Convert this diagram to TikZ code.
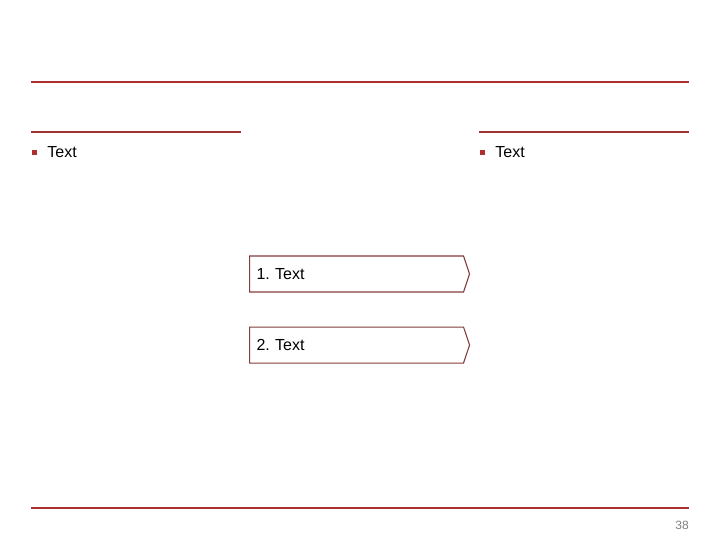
\documentclass[tikz,border=0pt]{standalone}
\usepackage{fontspec}
\setmainfont{Liberation Sans}
\frenchspacing
\usetikzlibrary{positioning, shapes.symbols}
\definecolor{slidered}{RGB}{172,48,48}
\definecolor{rulered}{RGB}{160,50,50}
\definecolor{boxred}{RGB}{130,60,60}
\tikzstyle{rule} = [draw = slidered, line width = 2.3]
\tikzstyle{thinrule} = [draw = rulered, line width = 1.2]
\tikzstyle{bullet} = [rectangle, fill = slidered, minimum size = 5, inner sep = 0]
\tikzstyle{textarea} = [rectangle, inner sep = 0, anchor = west,
  font = \fontsize{16}{19}\selectfont]
\tikzstyle{listbox} = [
  signal, signal to = east, signal pointer angle = 143,
  minimum width = 220, minimum height = 36, draw = boxred, line width = 1.1,
  text width = 200, align = left, font = \fontsize{16}{19}\selectfont
]

\begin{document}
\begin{tikzpicture}[x = 1pt, y = 1pt, node distance = 0]
    \useasboundingbox (0, 0) rectangle (720, -540);
    % rules
    \draw [rule] (31, -82) -- (689, -82);
    \draw [rule] (31, -508) -- (689, -508);
    \draw [thinrule] (31, -132) -- (241, -132);
    \draw [thinrule] (479, -132) -- (689, -132);
    % bullet-left
    \node [bullet] (bullet-left) at (34.5, -152.5) {};
    \node [textarea, right = 10 of bullet-left] (text-left) {Text};
    % bullet-right
    \node [bullet] (bullet-right) at (482.5, -152.5) {};
    \node [textarea, right = 10 of bullet-right] (text-right) {Text};
    % box-1
    \node [listbox, anchor = west] (box-1) at (249, -274) {1. Text};
    % box-2
    \node [listbox, below = 34 of box-1] (box-2) {2. Text};
    % page number
    \node [text = gray, font = \fontsize{12}{14}\selectfont] (page) at (682, -525) {38};
  \end{tikzpicture}
\end{document}
